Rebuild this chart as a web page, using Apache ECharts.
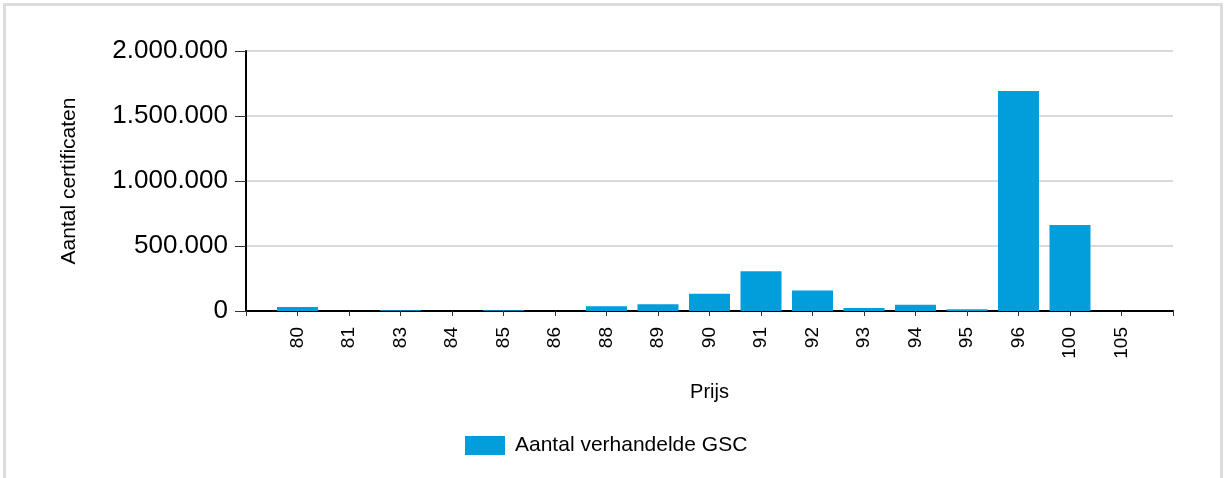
<!DOCTYPE html>
<html>
<head>
<meta charset="utf-8">
<script src="https://cdn.jsdelivr.net/npm/echarts@6/dist/echarts.min.js"></script>
<style>
  html, body { margin: 0; padding: 0; background: #fff; }
  #frame { position: absolute; left: 3px; top: 3px; width: 1220px; height: 480px; border: 3px solid #dcdcdc; box-sizing: border-box; }
  #chart { position: absolute; left: 0; top: 0; width: 1227px; height: 478px; }
</style>
</head>
<body>
<div id="frame"></div>
<div id="chart"></div>
<script>
// prijzen (categorieen) en aantallen
var prijzen = ['80', '81', '83', '84', '85', '86', '88', '89', '90', '91', '92', '93', '94', '95', '96', '100', '105'];
var aantallen = [30000, 0, 5000, 0, 5000, 0, 36000, 52000, 133000, 305000, 157000, 23000, 48000, 13000, 1692000, 662000, 0];
var yTicks = { min: 0, max: 2000000, interval: 500000 };

var fontFam = '"Liberation Sans", Arial, sans-serif';

// halve categorie ruimte links en rechts, zoals in het origineel
var xCats = [''].concat(prijzen, ['']);
var yVals = [null].concat(aantallen, [null]);

function fmt(v) {
    return String(v).replace(/\B(?=(\d{3})+(?!\d))/g, '.');
}

var chart = echarts.init(document.getElementById('chart'));
chart.setOption({
    animation: false,
    textStyle: { fontFamily: fontFam },
    grid: { left: 246, right: 54, top: 51, bottom: 167 },
    legend: {
        top: 430,
        left: 460,
        itemWidth: 40,
        itemHeight: 19,
        icon: 'rect',
        textStyle: { fontSize: 21, color: '#000', fontFamily: fontFam, padding: [0, 0, 0, 5] },
        data: ['Aantal verhandelde GSC']
    },
    xAxis: {
        type: 'category',
        data: xCats,
        boundaryGap: false,
        name: 'Prijs',
        nameLocation: 'middle',
        nameGap: 71,
        nameTextStyle: { fontSize: 20, color: '#000' },
        axisLine: { lineStyle: { color: '#000', width: 2 } },
        axisTick: { show: true, length: 5, lineStyle: { color: '#333', width: 1 } },
        axisLabel: { rotate: 90, fontSize: 19, color: '#000', margin: 16, interval: 0 }
    },
    yAxis: {
        type: 'value',
        min: yTicks.min,
        max: yTicks.max,
        interval: yTicks.interval,
        name: 'Aantal certificaten',
        nameLocation: 'middle',
        nameGap: 166,
        nameTextStyle: { fontSize: 21, color: '#000' },
        axisLine: { show: true, lineStyle: { color: '#000', width: 2 } },
        axisTick: { show: true, length: 11, lineStyle: { color: '#333', width: 1 } },
        axisLabel: { fontSize: 26, color: '#000', margin: 18, formatter: fmt },
        splitLine: { lineStyle: { color: '#d9d9d9', width: 2 } }
    },
    series: [{
        name: 'Aantal verhandelde GSC',
        type: 'bar',
        data: yVals,
        barWidth: 41,
        itemStyle: { color: '#029edb' }
    }]
});
</script>
</body>
</html>
